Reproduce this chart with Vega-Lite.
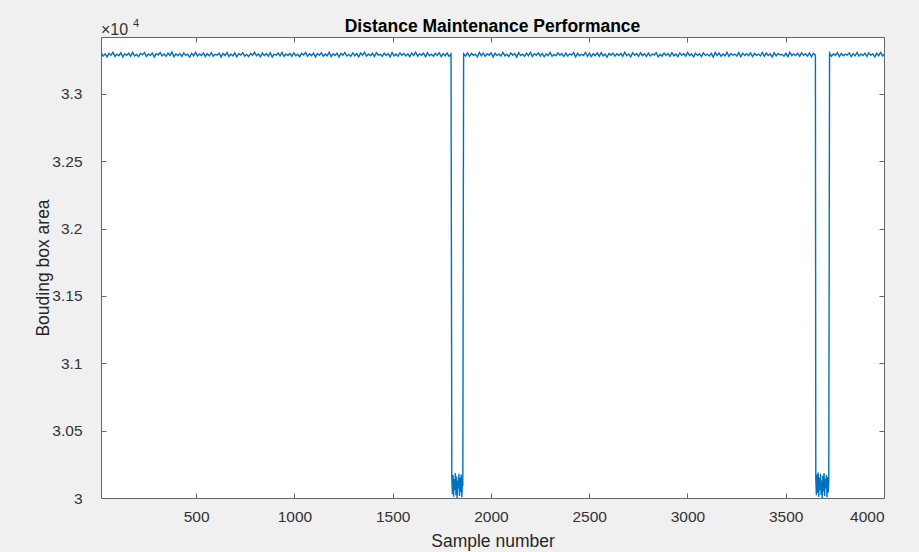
{
  "$schema": "https://vega.github.io/schema/vega-lite/v6.json",
  "width": 783,
  "height": 461,
  "autosize": "none",
  "padding": {"left": 101, "top": 37, "right": 35, "bottom": 54},
  "background": "#f0f0f0",
  "config": {
    "view": {"stroke": "#666666", "strokeWidth": 1, "fill": "white"},
    "font": "Liberation Sans",
    "axis": {"grid": false, "domain": false, "tickColor": "#666666", "tickSize": -5, "labelColor": "#333333", "labelFontSize": 15.5, "titleColor": "#262626", "titleFontSize": 17.5, "titleFontWeight": "normal", "labelFont": "Liberation Sans", "titleFont": "Liberation Sans"}
  },
  "title": {"text": "Distance Maintenance Performance", "fontSize": 17.5, "fontWeight": "bold", "color": "#000000", "font": "Liberation Sans", "offset": -17},
  "datasets": {
    "series": [
{"x":17,"y":33305},{"x":27,"y":33281},{"x":37,"y":33298},{"x":47,"y":33276},{"x":57,"y":33302},{"x":67,"y":33288},{"x":77,"y":33309},{"x":87,"y":33279},{"x":97,"y":33295},{"x":107,"y":33284},
{"x":117,"y":33306},{"x":127,"y":33274},{"x":137,"y":33299},{"x":147,"y":33287},{"x":157,"y":33303},{"x":167,"y":33280},{"x":177,"y":33310},{"x":187,"y":33283},{"x":197,"y":33294},{"x":207,"y":33277},
{"x":217,"y":33301},{"x":227,"y":33290},{"x":237,"y":33307},{"x":247,"y":33278},{"x":257,"y":33297},{"x":267,"y":33285},{"x":277,"y":33304},{"x":287,"y":33275},{"x":297,"y":33300},{"x":307,"y":33289},
{"x":317,"y":33308},{"x":327,"y":33282},{"x":337,"y":33296},{"x":347,"y":33279},{"x":357,"y":33303},{"x":367,"y":33286},{"x":377,"y":33311},{"x":387,"y":33276},{"x":397,"y":33298},{"x":407,"y":33284},
{"x":417,"y":33300},{"x":427,"y":33279},{"x":437,"y":33305},{"x":447,"y":33287},{"x":457,"y":33296},{"x":467,"y":33273},{"x":477,"y":33302},{"x":487,"y":33284},{"x":497,"y":33309},{"x":507,"y":33281},
{"x":517,"y":33297},{"x":527,"y":33286},{"x":537,"y":33304},{"x":547,"y":33277},{"x":557,"y":33299},{"x":567,"y":33283},{"x":577,"y":33307},{"x":587,"y":33280},{"x":597,"y":33295},{"x":607,"y":33288},
{"x":617,"y":33303},{"x":627,"y":33275},{"x":637,"y":33301},{"x":647,"y":33285},{"x":657,"y":33308},{"x":667,"y":33279},{"x":677,"y":33296},{"x":687,"y":33282},{"x":697,"y":33305},{"x":707,"y":33276},
{"x":717,"y":33299},{"x":727,"y":33289},{"x":737,"y":33306},{"x":747,"y":33281},{"x":757,"y":33294},{"x":767,"y":33278},{"x":777,"y":33302},{"x":787,"y":33287},{"x":797,"y":33310},{"x":807,"y":33283},
{"x":817,"y":33298},{"x":827,"y":33276},{"x":837,"y":33304},{"x":847,"y":33285},{"x":857,"y":33300},{"x":867,"y":33280},{"x":877,"y":33307},{"x":887,"y":33274},{"x":897,"y":33296},{"x":907,"y":33288},
{"x":917,"y":33303},{"x":927,"y":33282},{"x":937,"y":33309},{"x":947,"y":33278},{"x":957,"y":33297},{"x":967,"y":33286},{"x":977,"y":33301},{"x":987,"y":33279},{"x":997,"y":33305},{"x":1007,"y":33284},
{"x":1017,"y":33295},{"x":1027,"y":33277},{"x":1037,"y":33302},{"x":1047,"y":33289},{"x":1057,"y":33308},{"x":1067,"y":33281},{"x":1077,"y":33299},{"x":1087,"y":33285},{"x":1097,"y":33304},{"x":1107,"y":33275},
{"x":1117,"y":33300},{"x":1127,"y":33287},{"x":1137,"y":33306},{"x":1147,"y":33280},{"x":1157,"y":33296},{"x":1167,"y":33283},{"x":1177,"y":33310},{"x":1187,"y":33278},{"x":1197,"y":33298},{"x":1207,"y":33286},
{"x":1217,"y":33303},{"x":1227,"y":33274},{"x":1237,"y":33301},{"x":1247,"y":33288},{"x":1257,"y":33307},{"x":1267,"y":33282},{"x":1277,"y":33294},{"x":1287,"y":33279},{"x":1297,"y":33305},{"x":1307,"y":33285},
{"x":1317,"y":33299},{"x":1327,"y":33276},{"x":1337,"y":33304},{"x":1347,"y":33287},{"x":1357,"y":33309},{"x":1367,"y":33281},{"x":1377,"y":33297},{"x":1387,"y":33284},{"x":1397,"y":33302},{"x":1407,"y":33278},
{"x":1417,"y":33306},{"x":1427,"y":33289},{"x":1437,"y":33295},{"x":1447,"y":33280},{"x":1457,"y":33303},{"x":1467,"y":33286},{"x":1477,"y":33300},{"x":1487,"y":33275},{"x":1497,"y":33308},{"x":1507,"y":33283},
{"x":1517,"y":33296},{"x":1527,"y":33279},{"x":1537,"y":33305},{"x":1547,"y":33288},{"x":1557,"y":33301},{"x":1567,"y":33282},{"x":1577,"y":33298},{"x":1587,"y":33277},{"x":1597,"y":33304},{"x":1607,"y":33285},
{"x":1617,"y":33310},{"x":1627,"y":33281},{"x":1637,"y":33299},{"x":1647,"y":33287},{"x":1657,"y":33303},{"x":1667,"y":33276},{"x":1677,"y":33307},{"x":1687,"y":33284},{"x":1697,"y":33295},{"x":1707,"y":33280},
{"x":1717,"y":33302},{"x":1727,"y":33286},{"x":1737,"y":33306},{"x":1747,"y":33278},{"x":1757,"y":33300},{"x":1767,"y":33283},{"x":1777,"y":33304},{"x":1787,"y":33279},{"x":1797,"y":33297},
{"x":1801,"y":30150},{"x":1804,"y":30030},{"x":1807,"y":30170},{"x":1810,"y":30010},{"x":1813,"y":30140},{"x":1816,"y":30060},{"x":1819,"y":30185},{"x":1822,"y":30020},{"x":1825,"y":30160},{"x":1828,"y":30000},
{"x":1831,"y":30130},{"x":1834,"y":30070},{"x":1837,"y":30180},{"x":1840,"y":30015},{"x":1843,"y":30150},{"x":1846,"y":30045},{"x":1849,"y":30175},{"x":1852,"y":30005},{"x":1855,"y":30120},{"x":1857,"y":30090},
{"x":1861,"y":33298},{"x":1871,"y":33282},{"x":1881,"y":33305},{"x":1891,"y":33279},{"x":1901,"y":33301},{"x":1911,"y":33287},{"x":1921,"y":33296},{"x":1931,"y":33276},{"x":1941,"y":33308},{"x":1951,"y":33284},
{"x":1961,"y":33303},{"x":1971,"y":33280},{"x":1981,"y":33299},{"x":1991,"y":33288},{"x":2001,"y":33306},{"x":2011,"y":33275},{"x":2021,"y":33302},{"x":2031,"y":33285},{"x":2041,"y":33297},{"x":2051,"y":33281},
{"x":2061,"y":33309},{"x":2071,"y":33283},{"x":2081,"y":33295},{"x":2091,"y":33278},{"x":2101,"y":33304},{"x":2111,"y":33287},{"x":2121,"y":33300},{"x":2131,"y":33274},{"x":2141,"y":33307},{"x":2151,"y":33286},
{"x":2161,"y":33296},{"x":2171,"y":33280},{"x":2181,"y":33303},{"x":2191,"y":33284},{"x":2201,"y":33310},{"x":2211,"y":33277},{"x":2221,"y":33299},{"x":2231,"y":33288},{"x":2241,"y":33305},{"x":2251,"y":33282},
{"x":2261,"y":33301},{"x":2271,"y":33276},{"x":2281,"y":33297},{"x":2291,"y":33285},{"x":2301,"y":33308},{"x":2311,"y":33279},{"x":2321,"y":33294},{"x":2331,"y":33283},{"x":2341,"y":33306},{"x":2351,"y":33287},
{"x":2361,"y":33300},{"x":2371,"y":33278},{"x":2381,"y":33304},{"x":2391,"y":33281},{"x":2401,"y":33298},{"x":2411,"y":33289},{"x":2421,"y":33307},{"x":2431,"y":33275},{"x":2441,"y":33302},{"x":2451,"y":33284},
{"x":2461,"y":33295},{"x":2471,"y":33286},{"x":2481,"y":33309},{"x":2491,"y":33280},{"x":2501,"y":33303},{"x":2511,"y":33277},{"x":2521,"y":33299},{"x":2531,"y":33285},{"x":2541,"y":33305},{"x":2551,"y":33279},
{"x":2561,"y":33307},{"x":2571,"y":33283},{"x":2581,"y":33296},{"x":2591,"y":33274},{"x":2601,"y":33301},{"x":2611,"y":33288},{"x":2621,"y":33304},{"x":2631,"y":33281},{"x":2641,"y":33298},{"x":2651,"y":33286},
{"x":2661,"y":33302},{"x":2671,"y":33279},{"x":2681,"y":33310},{"x":2691,"y":33284},{"x":2701,"y":33297},{"x":2711,"y":33276},{"x":2721,"y":33305},{"x":2731,"y":33287},{"x":2741,"y":33300},{"x":2751,"y":33280},
{"x":2761,"y":33306},{"x":2771,"y":33285},{"x":2781,"y":33299},{"x":2791,"y":33278},{"x":2801,"y":33303},{"x":2811,"y":33282},{"x":2821,"y":33296},{"x":2831,"y":33289},{"x":2841,"y":33308},{"x":2851,"y":33275},
{"x":2861,"y":33294},{"x":2871,"y":33281},{"x":2881,"y":33304},{"x":2891,"y":33286},{"x":2901,"y":33300},{"x":2911,"y":33279},{"x":2921,"y":33307},{"x":2931,"y":33283},{"x":2941,"y":33297},{"x":2951,"y":33277},
{"x":2961,"y":33305},{"x":2971,"y":33288},{"x":2981,"y":33301},{"x":2991,"y":33280},{"x":3001,"y":33309},{"x":3011,"y":33284},{"x":3021,"y":33298},{"x":3031,"y":33276},{"x":3041,"y":33303},{"x":3051,"y":33285},
{"x":3061,"y":33299},{"x":3071,"y":33278},{"x":3081,"y":33306},{"x":3091,"y":33287},{"x":3101,"y":33295},{"x":3111,"y":33282},{"x":3121,"y":33302},{"x":3131,"y":33274},{"x":3141,"y":33308},{"x":3151,"y":33286},
{"x":3161,"y":33304},{"x":3171,"y":33280},{"x":3181,"y":33297},{"x":3191,"y":33283},{"x":3201,"y":33310},{"x":3211,"y":33279},{"x":3221,"y":33300},{"x":3231,"y":33288},{"x":3241,"y":33296},{"x":3251,"y":33281},
{"x":3261,"y":33307},{"x":3271,"y":33276},{"x":3281,"y":33303},{"x":3291,"y":33285},{"x":3301,"y":33299},{"x":3311,"y":33284},{"x":3321,"y":33305},{"x":3331,"y":33278},{"x":3341,"y":33301},{"x":3351,"y":33287},
{"x":3361,"y":33296},{"x":3371,"y":33282},{"x":3381,"y":33308},{"x":3391,"y":33279},{"x":3401,"y":33304},{"x":3411,"y":33286},{"x":3421,"y":33298},{"x":3431,"y":33275},{"x":3441,"y":33306},{"x":3451,"y":33283},
{"x":3461,"y":33300},{"x":3471,"y":33289},{"x":3481,"y":33295},{"x":3491,"y":33280},{"x":3501,"y":33302},{"x":3511,"y":33277},{"x":3521,"y":33309},{"x":3531,"y":33284},{"x":3541,"y":33297},{"x":3551,"y":33285},
{"x":3561,"y":33303},{"x":3571,"y":33279},{"x":3581,"y":33306},{"x":3591,"y":33287},{"x":3601,"y":33299},{"x":3611,"y":33281},{"x":3621,"y":33305},{"x":3631,"y":33276},{"x":3641,"y":33301},{"x":3651,"y":33288},
{"x":3653,"y":30140},{"x":3656,"y":30020},{"x":3659,"y":30175},{"x":3662,"y":30040},{"x":3665,"y":30190},{"x":3668,"y":30010},{"x":3671,"y":30150},{"x":3674,"y":30060},{"x":3677,"y":30180},{"x":3680,"y":30025},
{"x":3683,"y":30130},{"x":3686,"y":30000},{"x":3689,"y":30165},{"x":3692,"y":30050},{"x":3695,"y":30185},{"x":3698,"y":30015},{"x":3701,"y":30145},{"x":3704,"y":30070},{"x":3707,"y":30170},{"x":3710,"y":30005},
{"x":3713,"y":30155},{"x":3716,"y":30040},{"x":3719,"y":30120},
{"x":3723,"y":33304},{"x":3733,"y":33280},{"x":3743,"y":33298},{"x":3753,"y":33286},{"x":3763,"y":33307},{"x":3773,"y":33278},{"x":3783,"y":33301},{"x":3793,"y":33284},{"x":3803,"y":33296},{"x":3813,"y":33288},
{"x":3823,"y":33305},{"x":3833,"y":33277},{"x":3843,"y":33300},{"x":3853,"y":33283},{"x":3863,"y":33309},{"x":3873,"y":33281},{"x":3883,"y":33297},{"x":3893,"y":33285},{"x":3903,"y":33303},{"x":3913,"y":33279},
{"x":3923,"y":33306},{"x":3933,"y":33287},{"x":3943,"y":33299},{"x":3953,"y":33275},{"x":3963,"y":33302},{"x":3973,"y":33284},{"x":3983,"y":33308},{"x":3993,"y":33282},{"x":4000,"y":33295}
    ]
  },
  "layer": [
    {
      "data": {"name": "series"},
      "mark": {"type": "line", "color": "#0072BD", "strokeWidth": 1.4, "clip": true},
      "encoding": {
        "x": {"field": "x", "type": "quantitative", "scale": {"domain": [16, 4000], "nice": false, "zero": false},
              "axis": {"orient": "bottom", "values": [500,1000,1500,2000,2500,3000,3500,4000], "format": "d", "title": "Sample number", "labelPadding": 16, "titlePadding": 8}},
        "y": {"field": "y", "type": "quantitative", "scale": {"domain": [30000, 33423], "nice": false, "zero": false},
              "axis": {"orient": "left", "values": [30000,30500,31000,31500,32000,32500,33000], "labelExpr": "format(datum.value/10000, '~g')", "title": "Bouding box area", "labelPadding": 24, "titlePadding": -1}}
      }
    },
    {
      "data": {"values": [{"x": 16, "y": 33423, "t": "×10"}]},
      "mark": {"type": "text", "align": "left", "baseline": "alphabetic", "dy": -2, "fontSize": 16, "color": "#333333", "font": "Liberation Sans"},
      "encoding": {
        "x": {"field": "x", "type": "quantitative", "axis": {"orient": "top", "values": [500,1000,1500,2000,2500,3000,3500,4000], "labels": false, "title": null}},
        "y": {"field": "y", "type": "quantitative", "axis": {"orient": "right", "values": [30000,30500,31000,31500,32000,32500,33000], "labels": false, "title": null}},
        "text": {"field": "t"}
      }
    },
    {
      "data": {"values": [{"x": 16, "y": 33423, "t": "4"}]},
      "mark": {"type": "text", "align": "left", "baseline": "alphabetic", "dx": 32, "dy": -10, "fontSize": 11, "color": "#333333", "font": "Liberation Sans"},
      "encoding": {
        "x": {"field": "x", "type": "quantitative", "axis": null},
        "y": {"field": "y", "type": "quantitative", "axis": null},
        "text": {"field": "t"}
      }
    }
  ],
  "resolve": {"axis": {"x": "independent", "y": "independent"}}
}
